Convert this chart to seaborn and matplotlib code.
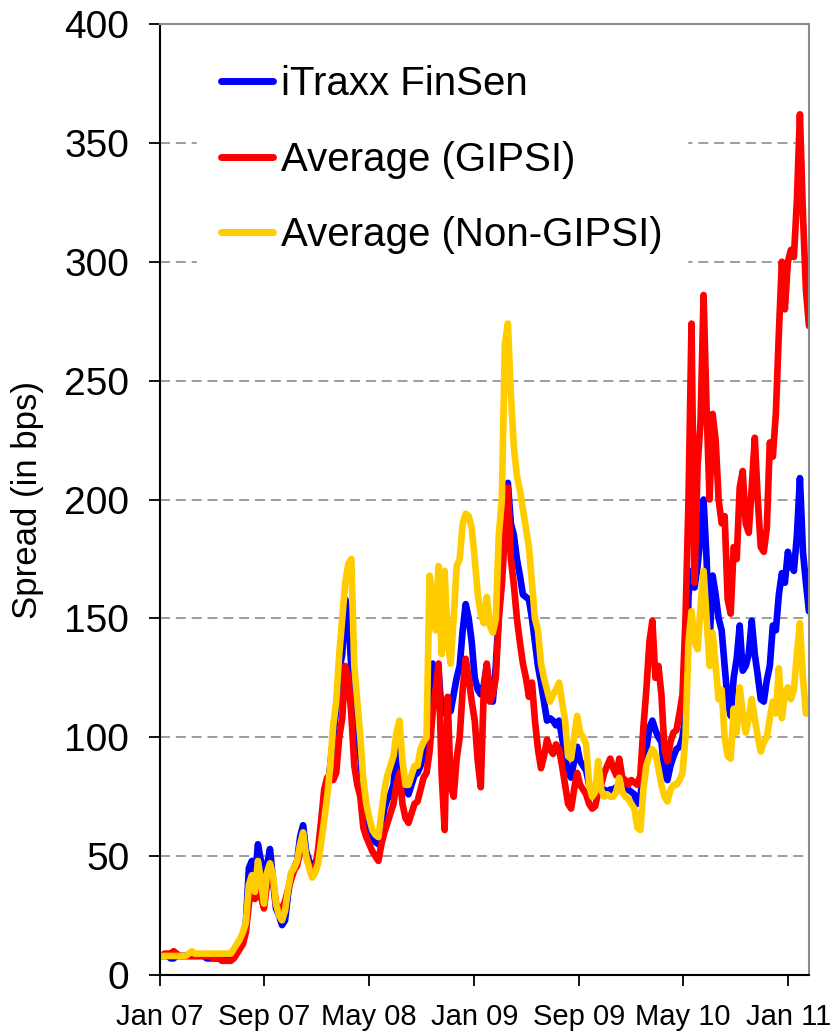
import pandas as pd
import matplotlib
matplotlib.use("Agg")
import matplotlib.pyplot as plt
import seaborn as sns

# -------------------------
# Data (weekly readings, Jan 2007 - Feb 2011, in bps)
# -------------------------
series_names = ["iTraxx FinSen", "Average (GIPSI)", "Average (Non-GIPSI)"]
series_colors = ["#0000FF", "#FF0000", "#FFCC00"]

itraxx = [
    8, 8, 8, 7, 7, 8, 8, 8, 8, 8, 8, 8, 8, 8, 8, 7, 7, 7, 7, 7, 7, 7, 7,
    7, 9, 11, 13, 16, 22, 45, 48, 40, 55, 48, 35, 46, 53, 40, 28, 25, 21, 23, 34,
    42, 45, 48, 58, 63, 52, 48, 45, 47, 50, 58, 70,
    78, 88, 100, 112, 128, 135, 158, 150, 130, 107,
    100, 92, 75, 67, 62, 58, 56, 55, 62, 70,
    74, 76, 80, 92, 97, 85, 78, 76, 80, 84,
    85, 88, 92, 95, 120, 131, 125, 128, 110, 112,
    112, 111, 118, 125, 130, 145, 156, 150, 140, 125,
    120, 118, 122, 130, 118, 115, 130, 152, 170, 200,
    207, 190, 185, 175, 168, 160, 159, 158, 150, 140,
    130, 123, 115, 107, 108, 107, 105, 107, 100, 92,
    85, 83, 90, 96, 90, 88, 86, 80, 78, 78,
    80, 78, 78, 77, 78, 78, 79, 80, 79, 78,
    78, 77, 76, 72, 75, 85,
    95, 104, 107, 103, 100, 98, 85, 82, 88, 92, 95, 96, 100, 110, 160,
    170, 163, 172, 185, 200, 175, 140, 168, 160, 150,
    145, 130, 115, 109, 125, 133, 147, 128, 130, 135,
    149, 135, 126, 116, 115, 124, 130, 147, 145, 160,
    169, 165, 178, 172, 170, 185, 209, 178, 165, 153,
]

gipsi = [
    8, 9, 9, 9, 10, 9, 8, 8, 8, 8, 8, 8, 8, 8, 8, 8, 8, 7, 7, 7, 6, 6, 6,
    6, 7, 9, 11, 13, 18, 30, 38, 32, 42, 33, 28, 38, 43, 40, 30, 27, 28, 31, 36,
    40, 44, 46, 52, 55, 50, 46, 42, 45, 53, 65, 78,
    83, 83, 82, 85, 100, 108, 130, 125, 110, 88,
    80, 75, 62, 58, 55, 52, 50, 48, 55, 60,
    64, 68, 72, 80, 85, 72, 66, 64, 68, 72,
    73, 78, 83, 85, 94, 110, 120, 131, 85, 61,
    117, 80, 75, 91, 100, 120, 133, 125, 115, 107,
    90, 79, 120, 131, 115, 118, 125, 150, 164, 185,
    205, 175, 164, 150, 140, 131, 125, 117, 123, 107,
    95, 87, 92, 99, 95, 93, 97, 95, 88, 80,
    72, 70, 78, 85, 80, 78, 76, 72, 70, 71,
    77, 80, 85, 88, 91, 87, 84, 91, 83, 82,
    80, 82, 81, 80, 84, 104,
    120, 140, 149, 125, 130, 118, 95, 90, 98, 102, 103, 110, 118, 150, 200,
    274, 165, 214, 233, 286, 238, 200, 236, 225, 200,
    190, 193, 158, 152, 180, 175, 205, 212, 190, 186,
    205, 226, 200, 180, 178, 188, 224, 218, 236, 270,
    300, 280, 300, 305, 302, 326, 362, 320, 288, 273,
]

non_gipsi = [
    8, 8, 8, 8, 8, 8, 8, 8, 8, 9, 10, 9, 9, 9, 9, 9, 9, 9, 9, 9, 9, 9, 9,
    9, 11, 13, 15, 18, 22, 38, 42, 35, 48, 40, 30, 43, 47, 42, 30, 25, 23, 27, 36,
    43, 45, 48, 55, 60, 50, 45, 41, 43, 47, 56, 65,
    75, 88, 105, 115, 135, 150, 165, 173, 175, 130,
    115, 100, 82, 72, 66, 61, 59, 58, 68, 78,
    84, 88, 92, 102, 107, 90, 80, 80, 84, 88,
    88, 95, 98, 100, 168, 160, 145, 172, 135, 170,
    140, 131, 150, 172, 175, 190, 194, 193, 188, 175,
    160, 152, 148, 159, 147, 144, 150, 185, 200, 265,
    274, 244, 222, 210, 204, 196, 188, 180, 165, 150,
    145, 131, 125, 120, 115, 118, 120, 123, 115, 107,
    92, 91, 100, 109, 102, 100, 97, 80, 75, 77,
    90, 78, 75, 76, 75, 75, 77, 83, 77, 75,
    74, 72, 70, 62, 61, 78,
    88, 92, 95, 93, 87, 80, 75, 73, 78, 80, 80, 82, 85, 100, 140,
    153, 140, 137, 155, 170, 150, 130, 144, 130, 116,
    120, 100, 92, 91, 112, 102, 121, 110, 102, 108,
    116, 108, 100, 94, 98, 100, 108, 115, 110, 129,
    108, 118, 121, 116, 120, 135, 148, 125, 110, 110,
]

dates = pd.date_range("2007-01-05", periods=len(itraxx), freq="7D")

tick_dates = pd.to_datetime(["2007-01-01", "2007-09-01", "2008-05-01", "2009-01-01",
                             "2009-09-01", "2010-05-01", "2011-01-01"])
tick_labels = ["Jan 07", "Sep 07", "May 08", "Jan 09", "Sep 09", "May 10", "Jan 11"]
y_ticks = list(range(0, 401, 50))

df = pd.DataFrame({"date": dates, series_names[0]: itraxx,
                   series_names[1]: gipsi, series_names[2]: non_gipsi})
long_df = df.melt(id_vars="date", var_name="series", value_name="spread")

# -------------------------
# Plot
# -------------------------
sns.set_style("white")
plt.rcParams["font.family"] = ["Liberation Sans", "DejaVu Sans"]
plt.rcParams["text.color"] = "black"
plt.rcParams["axes.labelcolor"] = "black"
plt.rcParams["xtick.color"] = "black"
plt.rcParams["ytick.color"] = "black"

fig = plt.figure(figsize=(8.37, 10.31), dpi=100)
ax = fig.add_axes([0.191, 0.0543, 0.7755, 0.9224])

sns.lineplot(data=long_df, x="date", y="spread", hue="series",
             hue_order=series_names, palette=series_colors,
             linewidth=4.8, ax=ax)

ax.set_xlim(pd.Timestamp("2007-01-01"), dates[-1])
ax.set_ylim(0, 400)
ax.set_yticks(y_ticks)
ax.set_xticks(tick_dates)
ax.set_xticklabels(tick_labels)

ax.yaxis.grid(True, linestyle=(0, (6, 3.5)), color="#8c8c8c", linewidth=1.2)
ax.set_axisbelow(True)

ax.spines["left"].set_color("black")
ax.spines["bottom"].set_color("black")
ax.spines["top"].set_color("#8c8c8c")
ax.spines["right"].set_color("#8c8c8c")
for s in ax.spines.values():
    s.set_linewidth(1.5)

ax.tick_params(axis="y", which="major", direction="out", length=8, width=1.3,
               labelsize=28, pad=14, left=True, color="black")
ax.tick_params(axis="x", which="major", direction="out", length=8, width=1.3,
               labelsize=21, pad=12, bottom=True, color="black")

ax.set_xlabel("")
ax.set_ylabel("Spread (in bps)", fontsize=25)
ax.yaxis.set_label_coords(-0.178, 0.5)

leg = ax.legend(loc="upper left", bbox_to_anchor=(0.057, 0.982), borderaxespad=0,
                fontsize=29, frameon=True, facecolor="white", edgecolor="white",
                framealpha=1, handlelength=1.3, handletextpad=0.2,
                labelspacing=0.93, borderpad=0.6)
for line in leg.get_lines():
    line.set_linewidth(5)

fig.savefig("out.png", dpi=100)
